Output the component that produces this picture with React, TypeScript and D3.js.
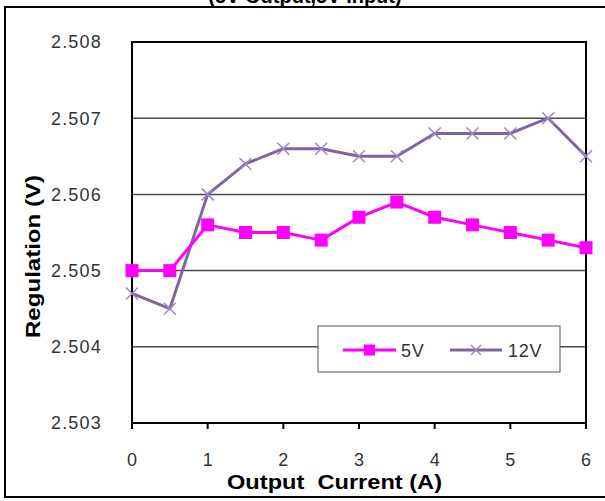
import React from "react";
import * as d3 from "d3";

const currents = [0, 0.5, 1, 1.5, 2, 2.5, 3, 3.5, 4, 4.5, 5, 5.5, 6];
const v5 = [2.505, 2.505, 2.5056, 2.5055, 2.5055, 2.5054, 2.5057, 2.5059, 2.5057, 2.5056, 2.5055, 2.5054, 2.5053];
const v12 = [2.5047, 2.5045, 2.506, 2.5064, 2.5066, 2.5066, 2.5065, 2.5065, 2.5068, 2.5068, 2.5068, 2.507, 2.5065];
const xTicks = [0, 1, 2, 3, 4, 5, 6];
const yTicks = [2.503, 2.504, 2.505, 2.506, 2.507, 2.508];
const seriesNames = ["5V", "12V"];
const titleText = "(5V Output,5V Input)";
const xTitle = "Output  Current (A)";
const yTitle = "Regulation (V)";

const W = 605;
const H = 501;
const L = 132, R = 586, T = 42, B = 423;
const FONT = "'Liberation Sans', Arial, sans-serif";
const C5 = "#FF00FF";
const C12 = "#8064A2";
const C12M = "#9C88C0";

export default function App() {
  const x = d3.scaleLinear().domain([0, 6]).range([L, R]);
  const y = d3.scaleLinear().domain([2.503, 2.508]).range([B, T]);
  const line = d3
    .line<number>()
    .x((_, i) => x(currents[i]))
    .y((d) => y(d));
  const sq = 13;
  const xm = 6;
  return (
    <svg width={W} height={H} style={{ position: "absolute", left: 0, top: 0, background: "#fff" }}>
      <rect x={0} y={0} width={W} height={H} fill="#fff" />
      <text x={305} y={3} textAnchor="middle" fontFamily={FONT} fontWeight="bold" fontSize={20} fill="#000">
        {titleText}
      </text>
      <rect x={5} y={7} width={W + 10} height={490} fill="none" stroke="#000" strokeWidth={2} />
      {yTicks.slice(1, -1).map((t) => (
        <line key={t} x1={L} x2={R} y1={y(t)} y2={y(t)} stroke="#4a4a4a" strokeWidth={1.5} />
      ))}
      <rect x={L} y={T} width={R - L} height={B - T} fill="none" stroke="#000" strokeWidth={2} />
      {xTicks.map((t) => (
        <line key={t} x1={x(t)} x2={x(t)} y1={B} y2={B + 6} stroke="#000" strokeWidth={2} />
      ))}
      {yTicks.map((t) => (
        <text key={t} x={102} y={y(t)} dy="0.36em" textAnchor="end" fontFamily={FONT} fontSize={18} letterSpacing={1.2} fill="#333">
          {t.toFixed(3)}
        </text>
      ))}
      {xTicks.map((t) => (
        <text key={t} x={x(t)} y={466} textAnchor="middle" fontFamily={FONT} fontSize={18} fill="#333">
          {t}
        </text>
      ))}
      <text x={227} y={489} fontFamily={FONT} fontWeight="bold" fontSize={20} textLength={215} lengthAdjust="spacingAndGlyphs" style={{ whiteSpace: "pre" }} fill="#000">
        {xTitle}
      </text>
      <text transform="translate(40,256.5) rotate(-90)" x={-81.5} y={0} fontFamily={FONT} fontWeight="bold" fontSize={21} textLength={163} lengthAdjust="spacingAndGlyphs" fill="#000">
        {yTitle}
      </text>
      <path d={line(v12) || ""} fill="none" stroke={C12} strokeWidth={3} strokeLinejoin="round" />
      {v12.map((v, i) => (
        <g key={i} stroke={C12M} strokeWidth={1.5}>
          <line x1={x(currents[i]) - xm} x2={x(currents[i]) + xm} y1={y(v) - xm} y2={y(v) + xm} />
          <line x1={x(currents[i]) - xm} x2={x(currents[i]) + xm} y1={y(v) + xm} y2={y(v) - xm} />
        </g>
      ))}
      <path d={line(v5) || ""} fill="none" stroke={C5} strokeWidth={3} strokeLinejoin="round" />
      {v5.map((v, i) => (
        <rect key={i} x={x(currents[i]) - sq / 2} y={y(v) - sq / 2} width={sq} height={sq} fill={C5} />
      ))}
      <g>
        <rect x={318} y={326} width={242} height={46} fill="#fff" stroke="#555" strokeWidth={1} />
        <line x1={343} x2={396} y1={350} y2={350} stroke={C5} strokeWidth={3} />
        <rect x={369.5 - 5.5} y={350 - 5.5} width={11} height={11} fill={C5} />
        <text x={401} y={356.5} fontFamily={FONT} fontSize={18} letterSpacing={0.8} fill="#333">
          {seriesNames[0]}
        </text>
        <line x1={450} x2={502} y1={350} y2={350} stroke={C12} strokeWidth={3} />
        <g stroke={C12M} strokeWidth={1.5}>
          <line x1={471} x2={481} y1={345} y2={355} />
          <line x1={471} x2={481} y1={355} y2={345} />
        </g>
        <text x={508} y={356.5} fontFamily={FONT} fontSize={18} letterSpacing={0.8} fill="#333">
          {seriesNames[1]}
        </text>
      </g>
    </svg>
  );
}
